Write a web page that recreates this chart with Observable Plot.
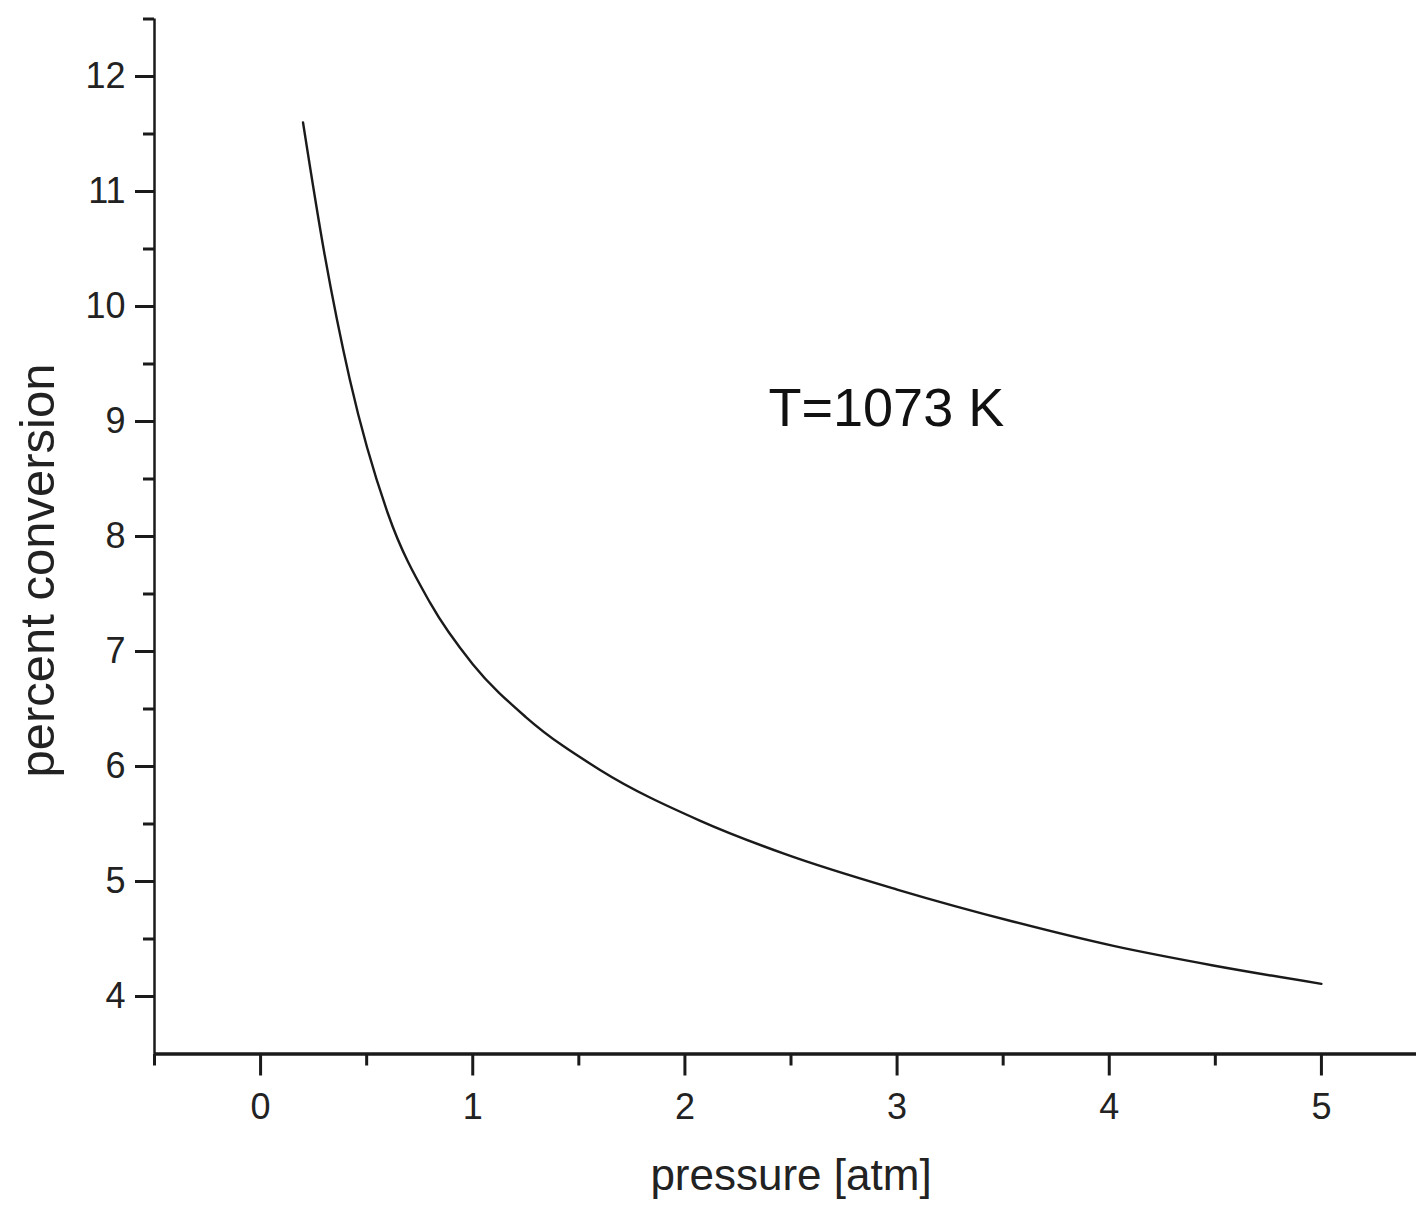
<!DOCTYPE html>
<html>
<head>
<meta charset="utf-8">
<script src="https://cdn.jsdelivr.net/npm/d3@7"></script>
<script src="https://cdn.jsdelivr.net/npm/@observablehq/plot@0.6"></script>
<style>
  html, body { margin: 0; padding: 0; background: #ffffff; }
  #chart svg { display: block; }
</style>
</head>
<body>
<div id="chart"></div>
<script>
// pressure [atm]
const pressure = [0.2, 0.3, 0.42, 0.6, 0.8, 1.0, 1.25, 1.6, 2.07, 2.47, 3.0, 3.55, 4.02, 4.49, 5.0];
// percent conversion
const conversion = [11.60, 10.47, 9.37, 8.20, 7.42, 6.89, 6.43, 5.97, 5.53, 5.24, 4.93, 4.65, 4.44, 4.27, 4.11];

const xMajorTicks = [0, 1, 2, 3, 4, 5];
const xMinorTicks = [-0.5, 0.5, 1.5, 2.5, 3.5, 4.5, 5.5];
const yMajorTicks = [4, 5, 6, 7, 8, 9, 10, 11, 12];
const yMinorTicks = [4.5, 5.5, 6.5, 7.5, 8.5, 9.5, 10.5, 11.5, 12.5];

const annotations = [{p: 2.394, c: 9.11, label: "T=1073 K"}];

const data = pressure.map((p, i) => ({p, c: conversion[i]}));

const font = "'Liberation Sans', Arial, Helvetica, sans-serif";
const ink = "#1a1a1a";

const chart = Plot.plot({
  width: 1416,
  height: 1212,
  marginLeft: 154,
  marginRight: -11,
  marginTop: 18.5,
  marginBottom: 158.5,
  style: {fontFamily: font, background: "#ffffff", color: ink, overflow: "visible"},
  x: {domain: [-0.5, 5.5], range: [154, 1427], label: null},
  y: {domain: [3.5, 12.5], range: [1053.5, 18.5], label: null},
  marks: [
    // axis lines
    Plot.ruleX([-0.5], {y1: 3.5, y2: 12.5, stroke: ink, strokeWidth: 2.5}),
    Plot.ruleY([3.5], {x1: -0.5, x2: 5.5, stroke: ink, strokeWidth: 3.5}),
    // x axis ticks
    Plot.axisX(xMajorTicks, {anchor: "bottom", tickSize: 22, tickPadding: 17, strokeWidth: 3, stroke: ink, fill: "#222", fontSize: 36, label: null, tickFormat: d => String(d)}),
    Plot.axisX(xMinorTicks, {anchor: "bottom", tickSize: 12, strokeWidth: 3, stroke: ink, tickFormat: () => "", label: null}),
    // y axis ticks
    Plot.axisY(yMajorTicks, {anchor: "left", tickSize: 19, tickPadding: 10, strokeWidth: 3, stroke: ink, fill: "#222", fontSize: 36, label: null, tickFormat: d => String(d)}),
    Plot.axisY(yMinorTicks, {anchor: "left", tickSize: 11, strokeWidth: 3, stroke: ink, tickFormat: () => "", label: null}),
    // axis titles
    Plot.text(["pressure [atm]"], {frameAnchor: "bottom", dy: 136, fontSize: 44, fill: "#222", textAnchor: "middle"}),
    Plot.text(["percent conversion"], {frameAnchor: "left", rotate: -90, dx: -116, dy: 34, fontSize: 49, fill: "#222", textAnchor: "middle"}),
    // curve
    Plot.line(data, {x: "p", y: "c", stroke: ink, strokeWidth: 2.4, curve: "monotone-x"}),
    // annotation
    Plot.text(annotations, {x: "p", y: "c", text: "label", textAnchor: "start", fontSize: 54, fill: "#111"})
  ]
});

document.getElementById("chart").appendChild(chart);
</script>
</body>
</html>
